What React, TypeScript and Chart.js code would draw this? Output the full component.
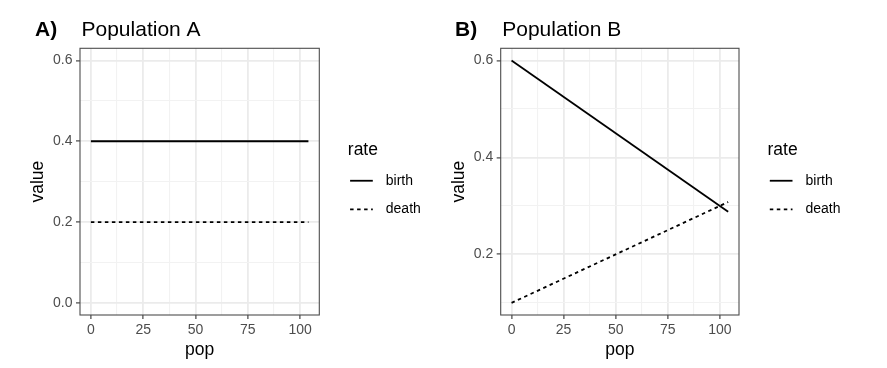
import React, { useEffect, useRef } from 'react';
import { Chart, registerables } from 'chart.js';
Chart.register(...registerables);

const FONT = "'Liberation Sans', Arial, Helvetica, sans-serif";

// ---- data ----
const popA = [0, 104];
const birthA = [0.4, 0.4];
const deathA = [0.2, 0.2];
const popB = [0, 104];
const birthB = [0.6, 0.288];
const deathB = [0.1, 0.308];

const xTickValues = [0, 25, 50, 75, 100];
const xTickLabels = ['0', '25', '50', '75', '100'];
const xMinorValues = [12.5, 37.5, 62.5, 87.5];
const yTickValuesA = [0, 0.2, 0.4, 0.6];
const yTickLabelsA = ['0.0', '0.2', '0.4', '0.6'];
const yMinorValuesA = [0.1, 0.3, 0.5];
const yTickValuesB = [0.2, 0.4, 0.6];
const yTickLabelsB = ['0.2', '0.4', '0.6'];
const yMinorValuesB = [0.1, 0.3, 0.5];
const seriesNames = ['birth', 'death'];
const legendTitle = 'rate';
const xTitle = 'pop';
const yTitle = 'value';

type Panel = {
  tag: string;
  title: string;
  pop: number[];
  birth: number[];
  death: number[];
  xMin: number; xMax: number;
  yMin: number; yMax: number;
  yTicks: number[]; yLabels: string[]; yMinor: number[];
  left: number; width: number;
  yAxisWidth: number; yTitlePad: number;
  rightPad: number; tagX: number;
};

const panels: Panel[] = [
  {
    tag: 'A)', title: 'Population A', pop: popA, birth: birthA, death: deathA,
    xMin: -5.2, xMax: 109.2, yMin: -0.03, yMax: 0.63,
    yTicks: yTickValuesA, yLabels: yTickLabelsA, yMinor: yMinorValuesA,
    left: 0, width: 440, yAxisWidth: 80, yTitlePad: 27.8, rightPad: 120.7, tagX: 35,
  },
  {
    tag: 'B)', title: 'Population B', pop: popB, birth: birthB, death: deathB,
    xMin: -5.2, xMax: 109.2, yMin: 0.075, yMax: 0.625,
    yTicks: yTickValuesB, yLabels: yTickLabelsB, yMinor: yMinorValuesB,
    left: 440, width: 447, yAxisWidth: 60.7, yTitlePad: 8.5, rightPad: 148, tagX: 15,
  },
];

const DASH = [3.5, 3.5];
const LW = 1.8;

function PanelChart({ p }: { p: Panel }) {
  const ref = useRef<HTMLCanvasElement | null>(null);
  useEffect(() => {
    if (!ref.current) return;
    const decor = {
      id: 'decor',
      afterDraw(chart: any) {
        const ctx = chart.ctx as CanvasRenderingContext2D;
        const a = chart.chartArea;
        ctx.save();
        // panel border
        ctx.strokeStyle = '#4d4d4d';
        ctx.lineWidth = 1.1;
        ctx.setLineDash([]);
        ctx.strokeRect(a.left, a.top, a.right - a.left, a.bottom - a.top);
        // titles
        ctx.fillStyle = '#000';
        ctx.textBaseline = 'alphabetic';
        ctx.textAlign = 'left';
        ctx.font = `bold 21px ${FONT}`;
        ctx.fillText(p.tag, p.tagX, 35.5);
        ctx.font = `21px ${FONT}`;
        ctx.fillText(p.title, a.left + 1.5, 35.5);
        // legend
        const cy = (a.top + a.bottom) / 2;
        const lx = a.right + 28.5;
        ctx.textBaseline = 'middle';
        ctx.font = `17.5px ${FONT}`;
        ctx.fillText(legendTitle, lx, cy - 31.5);
        ctx.font = `14px ${FONT}`;
        const rows = [cy - 0.9, cy + 27.7];
        seriesNames.forEach((name, i) => {
          const y = rows[i];
          ctx.beginPath();
          ctx.lineWidth = LW;
          ctx.strokeStyle = '#000';
          ctx.setLineDash(i === 0 ? [] : DASH);
          ctx.moveTo(a.right + 30.8, y);
          ctx.lineTo(a.right + 53.5, y);
          ctx.stroke();
          ctx.fillText(name, a.right + 66.5, y);
        });
        ctx.restore();
      },
    };

    const xAll = [...xTickValues, ...xMinorValues].sort((m, n) => m - n);
    const yAll = [...p.yTicks, ...p.yMinor].sort((m, n) => m - n);
    const isMinorX = (v: number) => xMinorValues.includes(v);
    const isMinorY = (v: number) => p.yMinor.includes(v);

    const chart = new Chart(ref.current, {
      type: 'line',
      data: {
        datasets: [
          {
            label: seriesNames[0],
            data: p.pop.map((x, i) => ({ x, y: p.birth[i] })),
            borderColor: '#000', borderWidth: LW, pointRadius: 0, fill: false,
            borderCapStyle: 'butt',
          },
          {
            label: seriesNames[1],
            data: p.pop.map((x, i) => ({ x, y: p.death[i] })),
            borderColor: '#000', borderWidth: LW, pointRadius: 0, fill: false,
            borderDash: DASH, borderCapStyle: 'butt',
          },
        ],
      },
      options: {
        animation: false,
        responsive: true,
        maintainAspectRatio: false,
        devicePixelRatio: 1,
        layout: { padding: { left: 0, top: 48.3, right: p.rightPad, bottom: 0 } },
        plugins: { legend: { display: false }, tooltip: { enabled: false }, title: { display: false } },
        scales: {
          x: {
            type: 'linear',
            min: p.xMin, max: p.xMax,
            afterBuildTicks: (s: any) => { s.ticks = xAll.map((v) => ({ value: v })); },
            afterFit: (s: any) => { s.height = 53; },
            border: { display: false },
            grid: {
              color: (c: any) => (c.tick && isMinorX(c.tick.value) ? '#f2f2f2' : '#ebebeb'),
              lineWidth: (c: any) => (c.tick && isMinorX(c.tick.value) ? 1.1 : 1.8),
              tickColor: (c: any) => (c.tick && isMinorX(c.tick.value) ? 'rgba(0,0,0,0)' : '#333333'),
              tickWidth: 1.1,
              tickLength: 4,
              drawTicks: true,
            },
            ticks: {
              autoSkip: false, maxRotation: 0, padding: 3,
              color: '#4d4d4d', font: { family: FONT, size: 14 },
              callback: (v: any) => {
                const i = xTickValues.indexOf(Number(v));
                return i >= 0 ? xTickLabels[i] : '';
              },
            },
            title: {
              display: true, text: xTitle, color: '#000',
              font: { family: FONT, size: 17.5 },
              padding: { top: 0, bottom: 7.5 },
            },
          },
          y: {
            type: 'linear',
            min: p.yMin, max: p.yMax,
            afterBuildTicks: (s: any) => { s.ticks = yAll.map((v) => ({ value: v })); },
            afterFit: (s: any) => { s.width = p.yAxisWidth; },
            border: { display: false },
            grid: {
              color: (c: any) => (c.tick && isMinorY(c.tick.value) ? '#f2f2f2' : '#ebebeb'),
              lineWidth: (c: any) => (c.tick && isMinorY(c.tick.value) ? 1.1 : 1.8),
              tickColor: (c: any) => (c.tick && isMinorY(c.tick.value) ? 'rgba(0,0,0,0)' : '#333333'),
              tickWidth: 1.1,
              tickLength: 4,
              drawTicks: true,
            },
            ticks: {
              autoSkip: false, padding: 3.5,
              color: '#4d4d4d', font: { family: FONT, size: 14 },
              callback: (v: any) => {
                const i = p.yTicks.indexOf(Number(v));
                return i >= 0 ? p.yLabels[i] : '';
              },
            },
            title: {
              display: true, text: yTitle, color: '#000',
              font: { family: FONT, size: 17.5 },
              padding: { top: p.yTitlePad, bottom: 0 },
            },
          },
        },
      },
      plugins: [decor],
    } as any);
    return () => chart.destroy();
  }, [p]);

  return (
    <div style={{ position: 'absolute', left: p.left, top: 0, width: p.width, height: 368 }}>
      <canvas ref={ref} />
    </div>
  );
}

export default function App() {
  return (
    <div style={{ position: 'absolute', left: 0, top: 0, width: 887, height: 368, background: '#fff' }}>
      {panels.map((p) => (
        <PanelChart key={p.tag} p={p} />
      ))}
    </div>
  );
}
